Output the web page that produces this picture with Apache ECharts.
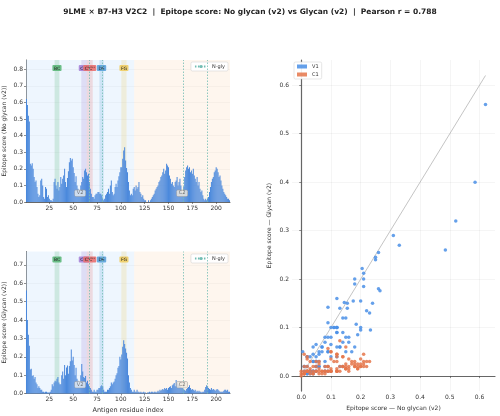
<!DOCTYPE html>
<html>
<head>
<meta charset="utf-8">
<script src="https://cdn.jsdelivr.net/npm/echarts@6/dist/echarts.min.js"></script>
<style>
  html, body { margin: 0; padding: 0; background: #fff; }
  #chart { width: 500px; height: 416px; }
</style>
</head>
<body>
<div id="chart"></div>
<script>
// per-residue epitope scores (residue 1..214)
var noGlycan = [
  0.62, 0.585, 0.52, 0.485, 0.23, 0.22, 0.233, 0.20, 0.15, 0.12,
  0.13, 0.09, 0.05, 0.03, 0.04, 0.13, 0.14, 0.10, 0.03, 0.02,
  0.09, 0.08, 0.03, 0.04, 0.02, 0.01, 0.01, 0.005, 0.02, 0.12,
  0.14, 0.10, 0.08, 0.12, 0.07, 0.09, 0.15, 0.11, 0.14, 0.16,
  0.20, 0.12, 0.09, 0.145, 0.185, 0.24, 0.265, 0.25, 0.26, 0.21,
  0.175, 0.12, 0.155, 0.10, 0.08, 0.07, 0.06, 0.10, 0.12, 0.15,
  0.14, 0.19, 0.20, 0.18, 0.16, 0.17, 0.12, 0.08, 0.05, 0.03,
  0.03, 0.02, 0.04, 0.05, 0.05, 0.06, 0.06, 0.05, 0.05, 0.04,
  0.02, 0.01, 0.02, 0.04, 0.05, 0.06, 0.08, 0.05, 0.10, 0.13,
  0.06, 0.04, 0.05, 0.09, 0.11, 0.09, 0.13, 0.155, 0.18, 0.21,
  0.21, 0.26, 0.31, 0.33, 0.25, 0.205, 0.18, 0.12, 0.07, 0.04,
  0.05, 0.04, 0.08, 0.09, 0.07, 0.10, 0.08, 0.09, 0.12, 0.06,
  0.05, 0.03, 0.04, 0.02, 0.01, 0.01, 0.00, 0.00, 0.01, 0.00,
  0.01, 0.02, 0.03, 0.04, 0.05, 0.07, 0.08, 0.09, 0.10, 0.12,
  0.13, 0.15, 0.16, 0.18, 0.20, 0.17, 0.19, 0.23, 0.22, 0.21,
  0.16, 0.14, 0.11, 0.12, 0.10, 0.09, 0.12, 0.13, 0.15, 0.10,
  0.12, 0.14, 0.10, 0.06, 0.05, 0.09, 0.15, 0.19, 0.21, 0.22,
  0.20, 0.21, 0.18, 0.19, 0.17, 0.20, 0.16, 0.14, 0.12, 0.15,
  0.10, 0.12, 0.08, 0.06, 0.07, 0.04, 0.02, 0.01, 0.02, 0.01,
  0.02, 0.03, 0.06, 0.09, 0.12, 0.14, 0.15, 0.18, 0.19, 0.21,
  0.20, 0.18, 0.15, 0.16, 0.13, 0.10, 0.08, 0.06, 0.05, 0.04,
  0.03, 0.02, 0.02, 0.01
];
var glycan = [
  0.56, 0.40, 0.32, 0.26, 0.13, 0.135, 0.095, 0.10, 0.08, 0.09,
  0.06, 0.05, 0.03, 0.04, 0.03, 0.02, 0.02, 0.01, 0.01, 0.005,
  0.01, 0.01, 0.005, 0.005, 0.005, 0.01, 0.02, 0.05, 0.04, 0.06,
  0.07, 0.065, 0.08, 0.09, 0.06, 0.05, 0.05, 0.10, 0.12, 0.08,
  0.155, 0.10, 0.142, 0.152, 0.107, 0.15, 0.176, 0.24, 0.18, 0.20,
  0.155, 0.10, 0.14, 0.08, 0.07, 0.05, 0.045, 0.10, 0.16, 0.12,
  0.09, 0.085, 0.095, 0.06, 0.07, 0.05, 0.04, 0.03, 0.02, 0.01,
  0.01, 0.02, 0.01, 0.01, 0.02, 0.02, 0.03, 0.03, 0.04, 0.045,
  0.04, 0.02, 0.01, 0.01, 0.01, 0.02, 0.02, 0.03, 0.04, 0.06,
  0.05, 0.06, 0.065, 0.08, 0.10, 0.11, 0.14, 0.15, 0.20, 0.185,
  0.212, 0.255, 0.29, 0.27, 0.245, 0.222, 0.19, 0.10, 0.06, 0.03,
  0.02, 0.01, 0.01, 0.02, 0.01, 0.01, 0.02, 0.01, 0.01, 0.005,
  0.01, 0.005, 0.005, 0.01, 0.005, 0.005, 0.00, 0.005, 0.005, 0.01,
  0.005, 0.01, 0.01, 0.005, 0.01, 0.01, 0.005, 0.01, 0.015, 0.01,
  0.02, 0.015, 0.02, 0.025, 0.02, 0.03, 0.025, 0.03, 0.02, 0.03,
  0.035, 0.04, 0.03, 0.045, 0.05, 0.057, 0.04, 0.073, 0.06, 0.05,
  0.045, 0.04, 0.035, 0.03, 0.03, 0.02, 0.02, 0.015, 0.025, 0.03,
  0.035, 0.045, 0.03, 0.02, 0.025, 0.02, 0.015, 0.02, 0.01, 0.015,
  0.01, 0.015, 0.01, 0.01, 0.005, 0.01, 0.01, 0.02, 0.035, 0.045,
  0.04, 0.03, 0.025, 0.02, 0.03, 0.02, 0.025, 0.02, 0.015, 0.02,
  0.025, 0.02, 0.015, 0.01, 0.01, 0.01, 0.01, 0.015, 0.02, 0.02,
  0.015, 0.02, 0.01, 0.01
];

var domainSplit = 114;          // V2 | C2 boundary
var domains = [
  { name: 'V2', from: 0.5, to: 114, fill: 'rgba(205,228,252,0.35)', box: '#e6ecf3' },
  { name: 'C2', from: 114, to: 214.5, fill: 'rgba(252,228,205,0.35)', box: '#efe8df' }
];
var nglySites = [67, 80, 165, 191];
var loops = [
  { name: 'BC', from: 30.5, to: 35.5, color: '#5cb87a' },
  { name: "CC'", from: 58.5, to: 64.2, color: '#a784d8' },
  { name: "C'C''", from: 64.2, to: 70.5, color: '#e87070' },
  { name: 'DE', from: 77.5, to: 82, color: '#5aa2dc' },
  { name: 'FG', from: 100.5, to: 106, color: '#f0cd63' }
];
var xTicks = [25, 50, 75, 100, 125, 150, 175, 200];
var yTicksTop = [0, 0.1, 0.2, 0.3, 0.4, 0.5, 0.6, 0.7, 0.8];
var yTicksBottom = [0, 0.1, 0.2, 0.3, 0.4, 0.5, 0.6, 0.7];
var scatterTicks = [0, 0.1, 0.2, 0.3, 0.4, 0.5, 0.6];
var pearson = 0.788;

var FONT = 'DejaVu Sans';
var BAR = '#4a88dc';
var NGLY = '#72bdb3';

function rgba(hex, a) {
  var n = parseInt(hex.slice(1), 16);
  return 'rgba(' + (n >> 16) + ',' + ((n >> 8) & 255) + ',' + (n & 255) + ',' + a + ')';
}

var nRes = noGlycan.length;
var ymaxTop = Math.max.apply(null, noGlycan) * 1.38;
var ymaxBot = Math.max.apply(null, glycan) * 1.38;

function fmt1(v) { return v.toFixed(1); }

function barX(i, showName) {
  return {
    type: 'value', gridIndex: i, min: 0.5, max: nRes + 0.5,
    name: showName ? 'Antigen residue index' : '', nameLocation: 'middle', nameGap: 13,
    nameTextStyle: { fontFamily: FONT, fontSize: 6.5, color: '#333' },
    axisLine: { show: true, lineStyle: { color: '#444', width: 0.8 } },
    axisTick: { show: true, length: 2, customValues: xTicks, lineStyle: { color: '#444', width: 0.6 } },
    axisLabel: { customValues: xTicks, fontFamily: FONT, fontSize: 6, color: '#333', margin: 3 },
    splitLine: { show: false }
  };
}
function barY(i, name, ymax, ticks) {
  return {
    type: 'value', gridIndex: i, min: 0, max: ymax,
    name: name, nameLocation: 'middle', nameGap: 19,
    nameTextStyle: { fontFamily: FONT, fontSize: 6, color: '#333' },
    axisLine: { show: true, lineStyle: { color: '#444', width: 0.8 } },
    axisTick: { show: true, length: 2, customValues: ticks, lineStyle: { color: '#444', width: 0.6 } },
    axisLabel: { customValues: ticks, formatter: fmt1, fontFamily: FONT, fontSize: 6, color: '#333', margin: 3 },
    splitLine: { show: true, customValues: ticks, lineStyle: { color: 'rgba(0,0,0,0.08)', width: 0.6 } }
  };
}

// background fills for domains and loops (below the bars)
function bandSeries(i) {
  var data = domains.map(function (d) {
    return [{ xAxis: d.from, itemStyle: { color: d.fill } }, { xAxis: d.to }];
  });
  loops.forEach(function (l) {
    data.push([{
      name: l.name, xAxis: l.from, itemStyle: { color: rgba(l.color, 0.22) },
      label: {
        show: true, position: 'insideTop', distance: 5, fontFamily: FONT, fontSize: 4.5,
        color: '#222', backgroundColor: rgba(l.color, 0.9), borderRadius: 1, padding: [1, 1.5, 0, 1.5]
      }
    }, { xAxis: l.to }]);
  });
  return {
    type: 'line', xAxisIndex: i, yAxisIndex: i, data: [], silent: true, z: 0,
    markArea: { silent: true, label: { show: false }, data: data }
  };
}

// domain name tags drawn above the bars
function domainLabelSeries(i, ymax) {
  return {
    type: 'scatter', xAxisIndex: i, yAxisIndex: i, silent: true, z: 6, symbolSize: 0,
    data: domains.map(function (d) {
      return { name: d.name, value: [(d.from + d.to) / 2, ymax * 0.062],
        label: { backgroundColor: d.box } };
    }),
    label: {
      show: true, position: 'inside', formatter: '{b}', fontFamily: FONT, fontSize: 5,
      color: '#555', borderColor: '#999', borderWidth: 0.5, borderRadius: 1, padding: [1, 2, 0, 2]
    }
  };
}

function nglySeries(i) {
  return {
    type: 'line', name: 'N-gly', xAxisIndex: i, yAxisIndex: i, data: [], symbol: 'none', z: 3,
    lineStyle: { type: [1.5, 1.5], color: NGLY, width: 1 }, itemStyle: { color: NGLY },
    markLine: {
      silent: true, symbol: ['none', 'none'], label: { show: false },
      lineStyle: { type: [1.5, 1.5], color: NGLY, width: 0.8 },
      data: nglySites.map(function (s) { return { xAxis: s }; })
    }
  };
}

function barSeries(i, vals) {
  return {
    type: 'bar', xAxisIndex: i, yAxisIndex: i, z: 2, barWidth: 0.85,
    itemStyle: { color: BAR }, silent: true,
    data: vals.map(function (v, k) { return [k + 1, v]; })
  };
}

var v1Pts = [], c1Pts = [];
noGlycan.forEach(function (x, k) {
  (k + 1 <= domainSplit ? v1Pts : c1Pts).push([x, glycan[k]]);
});
var diagMax = Math.max.apply(null, noGlycan);

var scAxis = function (name, i) {
  return {
    type: 'value', gridIndex: 2, min: -0.031, max: 0.652,
    name: name, nameLocation: 'middle', nameGap: i === 0 ? 13 : 20,
    nameTextStyle: { fontFamily: FONT, fontSize: 6, color: '#333' },
    axisLine: { show: true, lineStyle: { color: '#666', width: 1.2 } },
    axisTick: { show: true, length: 2, customValues: scatterTicks, lineStyle: { color: '#444', width: 0.6 } },
    axisLabel: { customValues: scatterTicks, formatter: fmt1, fontFamily: FONT, fontSize: 6, color: '#333', margin: 3 },
    splitLine: { show: true, customValues: scatterTicks, lineStyle: { color: 'rgba(0,0,0,0.07)', width: 0.6 } }
  };
};

var legendBox = {
  backgroundColor: 'rgba(255,255,255,0.9)', borderColor: '#ccc', borderWidth: 0.5, borderRadius: 1.5,
  padding: [2, 3], itemGap: 3, textStyle: { fontFamily: FONT, fontSize: 5, color: '#333' }
};

var chart = echarts.init(document.getElementById('chart'), null, { renderer: 'canvas' });
chart.setOption({
  backgroundColor: '#fff',
  animation: false,
  title: {
    text: '9LME \u00d7 B7-H3 V2C2  |  Epitope score: No glycan (v2) vs Glycan (v2)  |  Pearson r = ' + pearson.toFixed(3),
    left: 'center', top: 3,
    textStyle: { fontFamily: FONT, fontSize: 7.5, fontWeight: 'bold', color: '#222' }
  },
  legend: [
    Object.assign({ data: ['N-gly'], right: 272, top: 62, itemWidth: 12, itemHeight: 4 }, legendBox),
    Object.assign({ data: ['N-gly'], right: 272, top: 254, itemWidth: 12, itemHeight: 4 }, legendBox),
    Object.assign({ data: ['V1', 'C1'], left: 294, top: 62, orient: 'vertical', icon: 'rect', itemWidth: 10, itemHeight: 4 }, legendBox)
  ],
  grid: [
    { left: 26, right: 270, top: 60, height: 142 },
    { left: 26, right: 270, top: 251.5, height: 142 },
    { left: 292, right: 5, top: 60, height: 333 }
  ],
  xAxis: [barX(0, false), barX(1, true), scAxis('Epitope score \u2014 No glycan (v2)', 0)],
  yAxis: [
    barY(0, 'Epitope score (No glycan (v2))', ymaxTop, yTicksTop),
    barY(1, 'Epitope score (Glycan (v2))', ymaxBot, yTicksBottom),
    scAxis('Epitope score \u2014 Glycan (v2)', 1)
  ],
  series: [
    bandSeries(0), barSeries(0, noGlycan), nglySeries(0), domainLabelSeries(0, ymaxTop),
    bandSeries(1), barSeries(1, glycan), nglySeries(1), domainLabelSeries(1, ymaxBot),
    {
      type: 'line', xAxisIndex: 2, yAxisIndex: 2, silent: true, symbol: 'none', z: 1,
      lineStyle: { color: '#aaa', width: 0.7 },
      data: [[0, 0], [diagMax, diagMax]]
    },
    {
      type: 'scatter', name: 'V1', xAxisIndex: 2, yAxisIndex: 2, symbolSize: 3.5, z: 3,
      itemStyle: { color: '#4a8fe6', opacity: 0.85 }, data: v1Pts
    },
    {
      type: 'scatter', name: 'C1', xAxisIndex: 2, yAxisIndex: 2, symbolSize: 3.5, z: 3,
      itemStyle: { color: '#e5764a', opacity: 0.85 }, data: c1Pts
    }
  ]
});
</script>
</body>
</html>
